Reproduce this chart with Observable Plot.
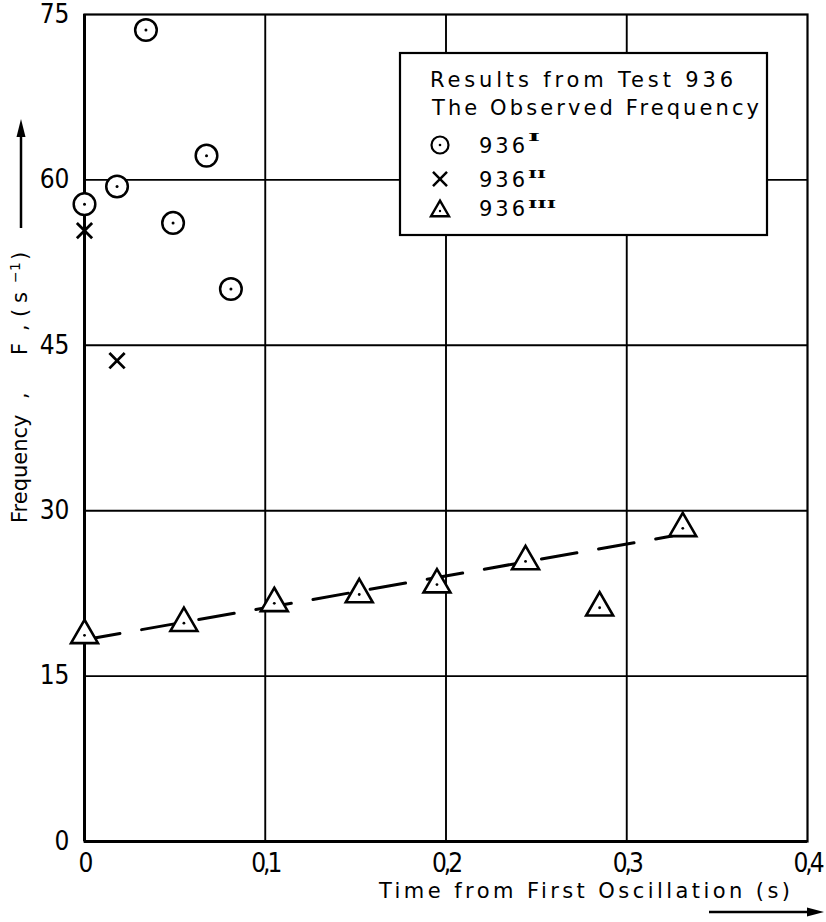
<!DOCTYPE html>
<html>
<head>
<meta charset="utf-8">
<script src="https://cdn.jsdelivr.net/npm/d3@7"></script>
<script src="https://cdn.jsdelivr.net/npm/@observablehq/plot@0.6"></script>
<style>
  html, body { margin: 0; padding: 0; background: #fff; }
  #chart { width: 826px; height: 922px; }
</style>
</head>
<body>
<div id="chart"></div>
<script>
// Axis ticks
const xTicks = [0, 0.1, 0.2, 0.3, 0.4];
const yTicks = [0, 15, 30, 45, 60, 75];

// Test 936, run I (circles)
const runI_time = [0, 0.018, 0.034, 0.049, 0.0675, 0.081];
const runI_freq = [57.8, 59.4, 73.6, 56.1, 62.2, 50.1];

// Test 936, run II (crosses)
const runII_time = [0, 0.018];
const runII_freq = [55.4, 43.6];

// Test 936, run III (triangles)
const runIII_time = [0, 0.055, 0.105, 0.152, 0.195, 0.244, 0.285, 0.331];
const runIII_freq = [18.7, 19.8, 21.6, 22.4, 23.3, 25.4, 21.2, 28.4];

// Dashed trend through run III
const trend_time = [0, 0.325];
const trend_freq = [18.3, 27.7];

const legendTitle = ["Results from Test 936", "The Observed Frequency"];
const legendRuns = ["936", "936", "936"];
const legendNumerals = ["I", "II", "III"];

const zip = (t, f) => t.map((d, i) => ({t: d, f: f[i]}));
const runI = zip(runI_time, runI_freq);
const runII = zip(runII_time, runII_freq);
const runIII = zip(runIII_time, runIII_freq);
const trend = zip(trend_time, trend_freq);

const tickFont = "'DejaVu Sans Condensed', 'DejaVu Sans', sans-serif";
const textFont = "'DejaVu Sans', sans-serif";

const W = 826, H = 922;

const plot = Plot.plot({
  width: W,
  height: H,
  marginTop: 14,
  marginRight: 19,
  marginBottom: 81,
  marginLeft: 84,
  style: {background: "#fff", color: "#000", fontFamily: tickFont, fontSize: "26px", overflow: "visible"},
  x: {domain: [0, 0.4]},
  y: {domain: [0, 75]},
  marks: [
    Plot.gridX(xTicks.slice(1, -1), {stroke: "#000", strokeOpacity: 1, strokeWidth: 1.9}),
    Plot.gridY(yTicks.slice(1, -1), {stroke: "#000", strokeOpacity: 1, strokeWidth: 1.9}),
    Plot.frame({stroke: "#000", strokeWidth: 2.2}),
    Plot.ruleX([0], {stroke: "#000", strokeWidth: 3}),
    Plot.ruleY([0], {stroke: "#000", strokeWidth: 3}),
    Plot.axisX(xTicks, {tickSize: 0, tickPadding: 12, label: null,
      tickFormat: d => d === 0 ? "0" : String(d).replace(".", ",")}),
    Plot.axisY(yTicks, {tickSize: 0, tickPadding: 15, label: null}),
    Plot.line(trend, {x: "t", y: "f", stroke: "#000", strokeWidth: 3, strokeDasharray: "36,22"}),
    Plot.dot(runI, {x: "t", y: "f", symbol: "circle", r: 10.8, stroke: "#000", strokeWidth: 2.5, fill: "#fff"}),
    Plot.dot(runI, {x: "t", y: "f", r: 1.5, fill: "#000", stroke: null}),
    Plot.dot(runII, {x: "t", y: "f", symbol: "times", r: 7, stroke: "#000", strokeWidth: 2.8, fill: "none"}),
    Plot.dot(runIII, {x: "t", y: "f", symbol: "triangle", r: 10, stroke: "#000", strokeWidth: 2.6, fill: "#fff"}),
    Plot.dot(runIII, {x: "t", y: "f", r: 1.4, fill: "#000", stroke: null})
  ]
});

document.getElementById("chart").appendChild(plot);

const svg = d3.select(plot);
svg.selectAll('g[aria-label="x-axis tick label"] text').attr("letter-spacing", -3);

// Axis titles and direction arrows
const titles = svg.append("g")
  .attr("font-family", textFont).attr("fill", "#000").attr("text-anchor", "start");

titles.append("text")
  .attr("x", 379).attr("y", 898)
  .attr("font-size", 21)
  .attr("textLength", 411).attr("lengthAdjust", "spacing")
  .text("Time from First Oscillation (s)");

titles.append("line").attr("x1", 709).attr("x2", 810).attr("y1", 912).attr("y2", 912)
  .attr("stroke", "#000").attr("stroke-width", 2.5);
titles.append("path").attr("d", "M824,912 L807,907.5 L807,916.5 Z").attr("fill", "#000");

const yTitle = titles.append("text")
  .attr("transform", "translate(27,523) rotate(-90)")
  .attr("font-size", 21);
yTitle.append("tspan").attr("x", 0).text("Frequency");
yTitle.append("tspan").attr("x", 124).text(",");
yTitle.append("tspan").attr("x", 168).text("F");
yTitle.append("tspan").attr("x", 192).text(",");
yTitle.append("tspan").attr("x", 206).text("(");
yTitle.append("tspan").attr("x", 220).text("s");
yTitle.append("tspan").attr("x", 240).attr("dy", -7).attr("font-size", 14).text("\u2212");
yTitle.append("tspan").attr("x", 252).attr("font-size", 14).text("1");
yTitle.append("tspan").attr("x", 263).attr("dy", 7).text(")");

titles.append("line").attr("x1", 21).attr("x2", 21).attr("y1", 228).attr("y2", 134)
  .attr("stroke", "#000").attr("stroke-width", 2.5);
titles.append("path").attr("d", "M21,119 L16.5,137 L25.5,137 Z").attr("fill", "#000");

// Legend box
const lg = svg.append("g")
  .attr("font-family", textFont).attr("fill", "#000").attr("text-anchor", "start");
lg.append("rect").attr("x", 400).attr("y", 53).attr("width", 367).attr("height", 182)
  .attr("fill", "#fff").attr("stroke", "#000").attr("stroke-width", 2.2);
lg.append("text").attr("x", 430).attr("y", 87).attr("font-size", 21)
  .attr("textLength", 303).attr("lengthAdjust", "spacing").text(legendTitle[0]);
lg.append("text").attr("x", 432).attr("y", 115).attr("font-size", 21)
  .attr("textLength", 327).attr("lengthAdjust", "spacing").text(legendTitle[1]);

const rowY = [145, 179, 211];
const baseY = [153, 187, 216];
const supY = [141, 178, 208];
const supW = [12, 18, 28];

// symbols
lg.append("circle").attr("cx", 440).attr("cy", rowY[0]).attr("r", 8.5)
  .attr("fill", "#fff").attr("stroke", "#000").attr("stroke-width", 2.2);
lg.append("circle").attr("cx", 440).attr("cy", rowY[0]).attr("r", 1.3).attr("fill", "#000");
lg.append("path").attr("transform", `translate(440,${rowY[1]})`)
  .attr("d", d3.symbol(d3.symbolTimes, 130)()).attr("fill", "none")
  .attr("stroke", "#000").attr("stroke-width", 2.5);
lg.append("path").attr("transform", `translate(440,${rowY[2]})`)
  .attr("d", d3.symbol(d3.symbolTriangle2, 232)()).attr("fill", "#fff")
  .attr("stroke", "#000").attr("stroke-width", 2.4);
lg.append("circle").attr("cx", 440).attr("cy", rowY[2]).attr("r", 1.2).attr("fill", "#000");

legendRuns.forEach((label, i) => {
  lg.append("text").attr("x", 479).attr("y", baseY[i]).attr("font-size", 21)
    .attr("textLength", 46).attr("lengthAdjust", "spacing").text(label);
  lg.append("text").attr("x", 528).attr("y", supY[i])
    .attr("font-family", "'DejaVu Serif', serif").attr("font-weight", "bold")
    .attr("font-size", 11).attr("textLength", supW[i]).attr("lengthAdjust", "spacingAndGlyphs")
    .text(legendNumerals[i]);
});
</script>
</body>
</html>
